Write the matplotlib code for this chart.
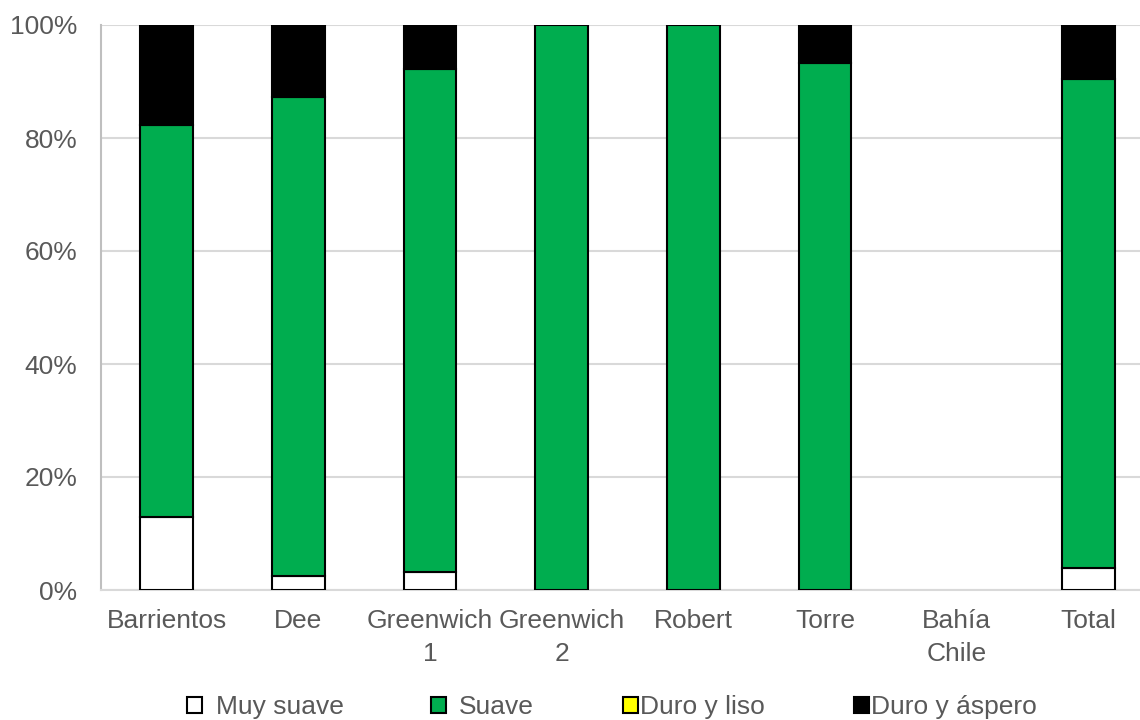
import matplotlib.pyplot as plt
import numpy as np

plt.rcParams['font.family'] = ['Liberation Sans', 'DejaVu Sans']

categories = ['Barrientos', 'Dee', 'Greenwich\n1', 'Greenwich\n2', 'Robert', 'Torre', 'Bahía\nChile', 'Total']
muy_suave = [12.9, 2.4, 3.2, 0, 0, 0, 0, 3.9]
suave = [69.4, 84.9, 89.0, 100, 100, 93.3, 0, 86.5]
duro_liso = [0, 0, 0, 0, 0, 0, 0, 0]
duro_aspero = [17.7, 12.7, 7.8, 0, 0, 6.7, 0, 9.6]

series = [('Muy suave', muy_suave, 'white'),
          ('Suave', suave, '#00AD4F'),
          ('Duro y liso', duro_liso, '#FFFF00'),
          ('Duro y áspero', duro_aspero, 'black')]

fig = plt.figure(figsize=(11.4, 7.2), dpi=100)
ax = fig.add_axes([101/1140, 130/720, 1053/1140, 565/720])

x = np.arange(len(categories))
bottom = np.zeros(len(categories))
handles = []
for name, vals, col in series:
    vals = np.array(vals, dtype=float)
    keep = vals > 0
    ax.bar(x[keep], vals[keep], 0.4, bottom=bottom[keep], color=col, edgecolor='black',
           linewidth=1.5, zorder=3)
    handles.append(plt.Rectangle((0, 0), 1, 1, facecolor=col, edgecolor='black', linewidth=1.5, label=name))
    bottom += vals

ax.set_xlim(-0.5, len(categories) - 0.5)
ax.set_ylim(0, 100)
ax.set_yticks(range(0, 101, 20))
ax.set_yticklabels([f'{v}%' for v in range(0, 101, 20)])
ax.set_xticks(x)
ax.set_xticklabels(categories, linespacing=1.45)
ax.grid(axis='y', color='#D9D9D9', linewidth=1.5, zorder=0)
for s in ['top', 'right']:
    ax.spines[s].set_visible(False)
ax.spines['left'].set_color('#BFBFBF')
ax.spines['left'].set_linewidth(1.5)
ax.spines['bottom'].set_color('#D9D9D9')
ax.spines['bottom'].set_linewidth(1.5)
ax.tick_params(axis='both', length=0, labelsize=19, colors='#595959')
ax.tick_params(axis='x', pad=14)
ax.tick_params(axis='y', pad=17)

# one legend per entry, the way the original spaces them
leg_x = [187, 431, 623, 854]
leg_pad = [0.55, 0.5, 0.1, 0.1]
for h, lx, lp in zip(handles, leg_x, leg_pad):
    leg = fig.legend(handles=[h], loc='center left', bbox_to_anchor=(lx/1140, 1 - 707/720),
                     frameon=False, fontsize=19, labelcolor='#595959', handlelength=0.55,
                     handleheight=0.55, handletextpad=lp, borderpad=0, borderaxespad=0)

fig.savefig('out.png', dpi=100)
